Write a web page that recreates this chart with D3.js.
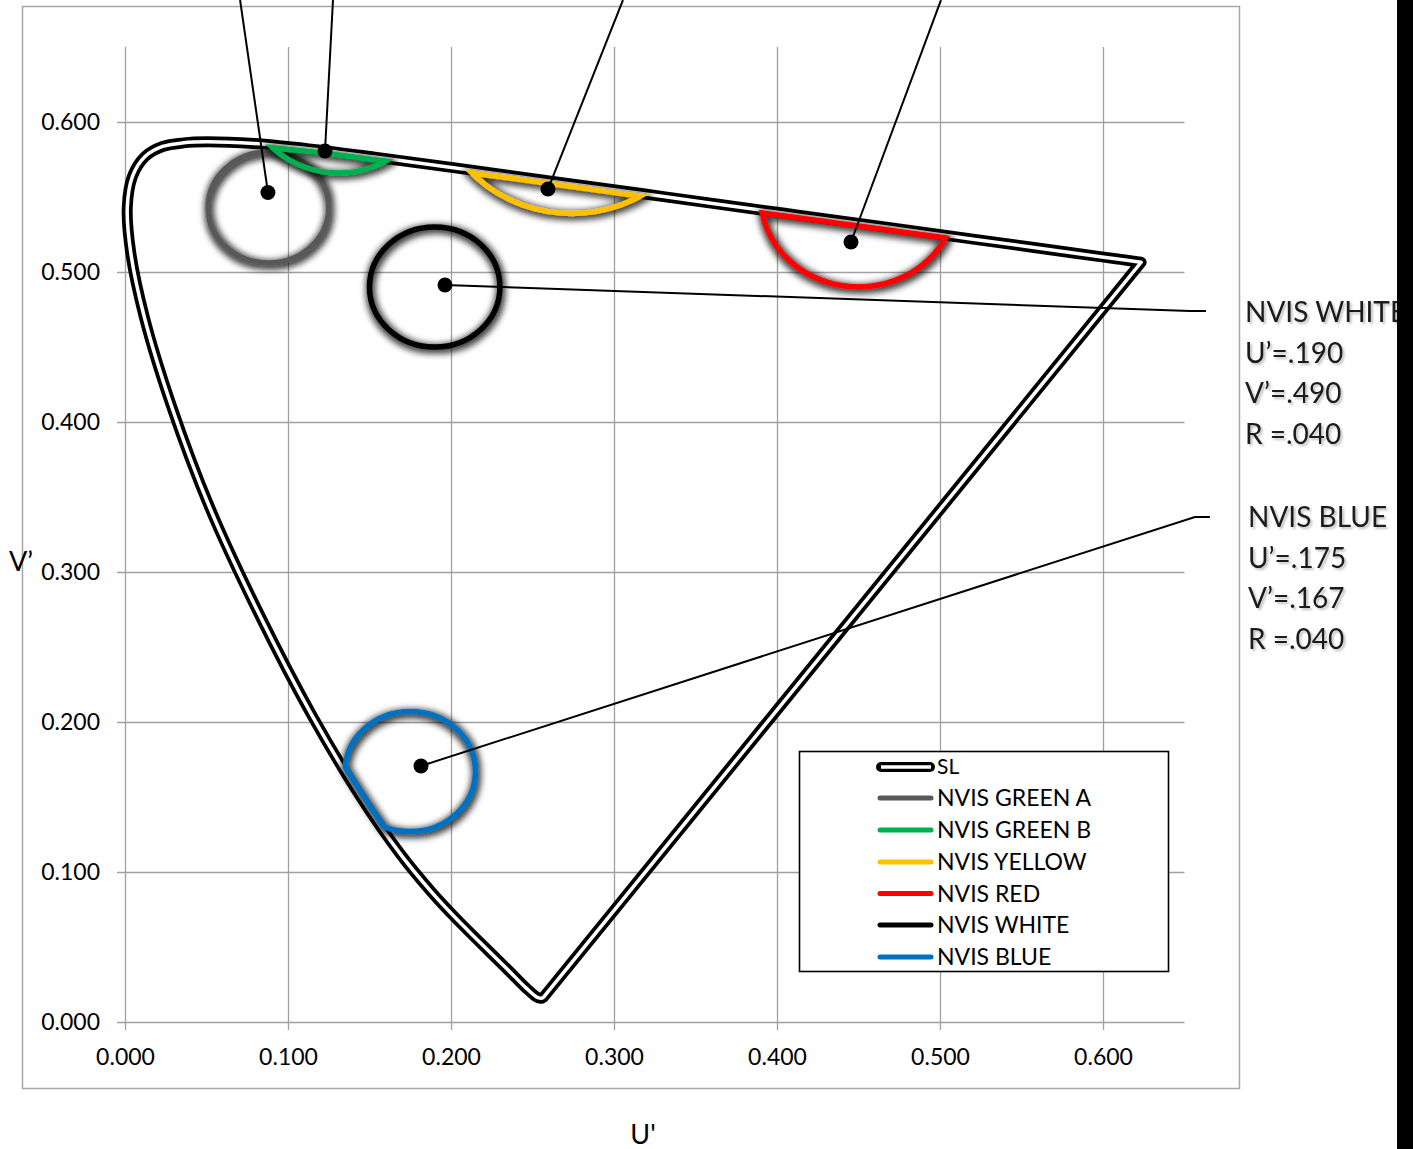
<!DOCTYPE html>
<html><head><meta charset="utf-8">
<script src="https://cdn.jsdelivr.net/npm/d3@7"></script>
<style>body{margin:0;background:#fff;overflow:hidden} svg{display:block}</style>
</head><body>
<svg id="chart" width="1413" height="1149"></svg>
<script>
// ---- Spectral locus (CIE 1976 u'v') ----
const slWavelength = [380,400,410,420,430,440,450,455,460,465,470,475,480,485,490,495,500,505,510,515,520,525,530,540,550,560,570,580,590,600,610,620,630,640,650,660,680,700];
const slU = [0.2568,0.2557,0.2545,0.2522,0.2461,0.2347,0.2161,0.2033,0.1877,0.1690,0.1441,0.1147,0.0828,0.0521,0.0282,0.0119,0.0035,0.0014,0.0046,0.0123,0.0231,0.0360,0.0501,0.0792,0.1127,0.1531,0.2026,0.2623,0.3315,0.4035,0.4692,0.5203,0.5565,0.5830,0.6005,0.6109,0.6199,0.6234];
const slV = [0.0166,0.0159,0.0159,0.0169,0.0226,0.0350,0.0549,0.0688,0.0871,0.1119,0.1510,0.2044,0.2708,0.3427,0.4117,0.4698,0.5131,0.5432,0.5638,0.5770,0.5837,0.5861,0.5868,0.5856,0.5821,0.5766,0.5694,0.5604,0.5501,0.5393,0.5296,0.5219,0.5165,0.5125,0.5099,0.5084,0.5070,0.5065];

// ---- NVIS colour regions ----
const seriesNames = ["SL","NVIS GREEN A","NVIS GREEN B","NVIS YELLOW","NVIS RED","NVIS WHITE","NVIS BLUE"];
const seriesColors = ["#000000","#595959","#00b050","#ffc000","#ff0000","#000000","#0070c0"];
const circleU = [0.088,0.131,0.274,0.450,0.190,0.175];
const circleV = [0.543,0.623,0.622,0.550,0.490,0.167];
const circleR = [0.037,0.057,0.083,0.060,0.040,0.040];

// ---- callout anchor dots and leader lines ----
const dotU = [0.0877,0.1227,0.2595,0.4454,0.1963,0.1816];
const dotV = [0.5530,0.5807,0.5553,0.5200,0.4913,0.1707];
const leaderEndU = [[0.0706],[0.1276],[0.3055],[0.5006],[0.6534,0.6632],[0.6564,0.6656]];
const leaderEndV = [[0.6813],[0.6813],[0.6813],[0.6813],[0.4740,0.4740],[0.3367,0.3367]];

// ---- annotation labels ----
const whiteLabel = ["NVIS WHITE","U’=.190","V’=.490","R =.040"];
const blueLabel = ["NVIS BLUE","U’=.175","V’=.167","R =.040"];

// ---- axes ----
const tickValues = [0,0.1,0.2,0.3,0.4,0.5,0.6];
const axisMax = 0.65;

const FONT = "Lato, 'Open Sans', sans-serif";
const svg = d3.select("#chart");
const x = d3.scaleLinear().domain([0,axisMax]).range([125,1184.5]);
const y = d3.scaleLinear().domain([0,axisMax]).range([1022,47]);

const defs = svg.append("defs");
const glow = defs.append("filter").attr("id","glow").attr("x","-30%").attr("y","-30%").attr("width","160%").attr("height","160%");
glow.append("feMorphology").attr("in","SourceAlpha").attr("operator","dilate").attr("radius",1.5).attr("result","d");
glow.append("feGaussianBlur").attr("in","d").attr("stdDeviation",3);
glow.append("feOffset").attr("dx",0.5).attr("dy",1.5).attr("result","b");
glow.append("feFlood").attr("flood-color","#000").attr("flood-opacity",0.75);
glow.append("feComposite").attr("in2","b").attr("operator","in");
const gm = glow.append("feMerge"); gm.append("feMergeNode"); gm.append("feMergeNode").attr("in","SourceGraphic");

const tshadow = defs.append("filter").attr("id","tshadow").attr("x","-10%").attr("y","-20%").attr("width","130%").attr("height","160%");
tshadow.append("feGaussianBlur").attr("in","SourceAlpha").attr("stdDeviation",1.2);
tshadow.append("feOffset").attr("dx",1.5).attr("dy",1.5).attr("result","b");
tshadow.append("feFlood").attr("flood-color","#000").attr("flood-opacity",0.25);
tshadow.append("feComposite").attr("in2","b").attr("operator","in");
const tm = tshadow.append("feMerge"); tm.append("feMergeNode"); tm.append("feMergeNode").attr("in","SourceGraphic");

// chart border
svg.append("rect").attr("x",22.5).attr("y",6.5).attr("width",1217).attr("height",1082)
  .attr("fill","none").attr("stroke","#a6a6a6").attr("stroke-width",1.5);

// gridlines + axes
const gy = svg.append("g").attr("transform","translate(117,0)")
  .call(d3.axisLeft(y).tickValues(tickValues).tickFormat(d3.format(".3f")).tickSize(-(1184.5-117)).tickPadding(17));
const gx = svg.append("g").attr("transform","translate(0,1030)")
  .call(d3.axisBottom(x).tickValues(tickValues).tickFormat(d3.format(".3f")).tickSize(-(1030-47)).tickPadding(19));
[gx,gy].forEach(g=>{
  g.select(".domain").remove();
  g.selectAll(".tick line").attr("stroke","#a0a0a0").attr("stroke-width",1.3);
  g.selectAll(".tick text").attr("font-family",FONT).attr("font-size",23).attr("fill","#000");
});

// spectral locus
const slPts = slU.map((u,i)=>[u,slV[i]]);
const slD = d3.line().x(d=>x(d[0])).y(d=>y(d[1])).curve(d3.curveCatmullRom.alpha(0.5))(slPts) + "Z";
defs.append("clipPath").attr("id","locusClip").append("path").attr("d",slD);
svg.append("path").attr("d",slD).attr("fill","none").attr("stroke","#000").attr("stroke-width",11).attr("stroke-linejoin","round");
svg.append("path").attr("d",slD).attr("fill","none").attr("stroke","#fff").attr("stroke-width",3.5).attr("stroke-linejoin","round");

// NVIS regions
circleU.forEach((u,i)=>{
  const cx = x(u), cy = y(circleV[i]), rx = x(circleR[i])-x(0), ry = y(0)-y(circleR[i]);
  const col = seriesColors[i+1];
  defs.append("clipPath").attr("id","ec"+i).append("ellipse").attr("cx",cx).attr("cy",cy).attr("rx",rx).attr("ry",ry);
  const g = svg.append("g").attr("filter","url(#glow)");
  g.append("g").attr("clip-path","url(#locusClip)").append("ellipse")
    .attr("cx",cx).attr("cy",cy).attr("rx",rx).attr("ry",ry)
    .attr("fill","none").attr("stroke",col).attr("stroke-width",5.5);
  g.append("g").attr("clip-path","url(#ec"+i+")").append("g").attr("clip-path","url(#locusClip)")
    .append("path").attr("d",slD).attr("fill","none").attr("stroke",col).attr("stroke-width",11);
});

// leader lines & dots
dotU.forEach((u,i)=>{
  const pts = [[u,dotV[i]]].concat(leaderEndU[i].map((eu,j)=>[eu,leaderEndV[i][j]]));
  svg.append("path").attr("d",d3.line().x(d=>x(d[0])).y(d=>y(d[1]))(pts))
    .attr("fill","none").attr("stroke","#000").attr("stroke-width",2);
});
svg.selectAll("circle.dot").data(dotU).join("circle").attr("class","dot")
  .attr("cx",d=>x(d)).attr("cy",(d,i)=>y(dotV[i])).attr("r",7.5).attr("fill","#000");

// legend
const lg = svg.append("g");
lg.append("rect").attr("x",799.5).attr("y",751.5).attr("width",369).attr("height",220)
  .attr("fill","#fff").attr("stroke","#000").attr("stroke-width",1.6);
const rowY = [767,798,830,862,893.5,925,957];
seriesNames.forEach((n,i)=>{
  if(i===0){
    lg.append("line").attr("x1",881).attr("x2",930).attr("y1",rowY[i]).attr("y2",rowY[i]).attr("stroke","#000").attr("stroke-width",10).attr("stroke-linecap","round");
    lg.append("line").attr("x1",881).attr("x2",931).attr("y1",rowY[i]).attr("y2",rowY[i]).attr("stroke","#fff").attr("stroke-width",3.5);
  } else {
    lg.append("line").attr("x1",880).attr("x2",931).attr("y1",rowY[i]).attr("y2",rowY[i]).attr("stroke",seriesColors[i]).attr("stroke-width",5).attr("stroke-linecap","round");
  }
  lg.append("text").attr("x",937).attr("y",rowY[i]).attr("dy","0.35em").attr("font-family",FONT)
    .attr("font-size",i===0?21:23).attr("fill","#000").text(n);
});

// axis titles
svg.append("text").attr("x",9).attr("y",571).attr("font-family",FONT).attr("font-size",27).text("V’");
svg.append("text").attr("x",643).attr("y",1144).attr("text-anchor","middle").attr("font-family",FONT).attr("font-size",27).text("U'");

// right annotations
function block(lines, x0, y0){
  const t = svg.append("g").attr("filter","url(#tshadow)");
  lines.forEach((s,i)=>t.append("text").attr("x",x0).attr("y",y0+i*40.5).attr("font-family",FONT)
    .attr("font-size",28).attr("fill","#1a1a1a").text(s));
}
block(whiteLabel,1245,322);
block(blueLabel,1248,527);

// black bar on the right edge
svg.append("rect").attr("x",1397).attr("y",0).attr("width",16).attr("height",1149).attr("fill","#000");
</script>
</body></html>
